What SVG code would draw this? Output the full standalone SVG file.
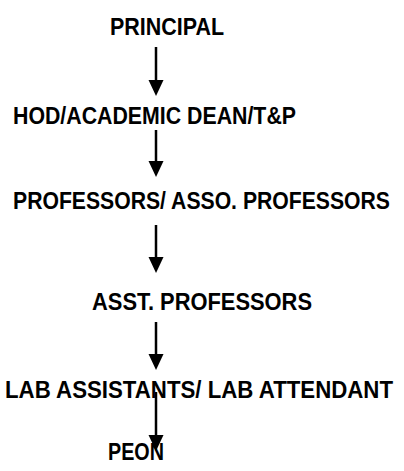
<svg xmlns="http://www.w3.org/2000/svg" width="404" height="471" viewBox="0 0 404 471">
<defs>
<style>
.t{font-family:"Liberation Sans",Arial,sans-serif;font-weight:bold;font-size:21.4px;fill:#000}
.c{stroke:#000;stroke-width:2.5;fill:none}
.h{fill:#000}
</style>
</defs>
<rect width="404" height="471" fill="#fff"/>
<g id="connectors">
<line class="c" x1="156" y1="47" x2="156" y2="80"/><polygon class="h" points="148.5,80 163.5,80 156,96"/>
<line class="c" x1="156" y1="130" x2="156" y2="161"/><polygon class="h" points="148.5,161 163.5,161 156,177"/>
<line class="c" x1="156" y1="225" x2="156" y2="257"/><polygon class="h" points="148.5,257 163.5,257 156,273"/>
<line class="c" x1="156" y1="322" x2="156" y2="354"/><polygon class="h" points="148.5,354 163.5,354 156,370"/>
<line class="c" x1="156" y1="392" x2="156" y2="435"/><polygon class="h" points="148.5,435 163.5,435 156,451"/>
</g>
<g id="principal" transform="translate(110,35) scale(1,1.09)"><text class="t" x="0" y="0" textLength="114" lengthAdjust="spacingAndGlyphs">PRINCIPAL</text></g>
<g id="hod" transform="translate(13,124) scale(1,1.09)"><text class="t" x="0" y="0" textLength="283" lengthAdjust="spacingAndGlyphs">HOD/ACADEMIC DEAN/T&amp;P</text></g>
<g id="professors" transform="translate(13,209) scale(1,1.09)"><text class="t" x="0" y="0" textLength="377" lengthAdjust="spacingAndGlyphs">PROFESSORS/ ASSO. PROFESSORS</text></g>
<g id="asst" transform="translate(92,310) scale(1,1.09)"><text class="t" x="0" y="0" textLength="220" lengthAdjust="spacingAndGlyphs">ASST. PROFESSORS</text></g>
<g id="lab" transform="translate(5,398) scale(1,1.09)"><text class="t" x="0" y="0" textLength="388" lengthAdjust="spacingAndGlyphs">LAB ASSISTANTS/ LAB ATTENDANT</text></g>
<g id="peon" transform="translate(108,460) scale(1,1.09)"><text class="t" x="0" y="0" textLength="56" lengthAdjust="spacingAndGlyphs">PEON</text></g>
</svg>
